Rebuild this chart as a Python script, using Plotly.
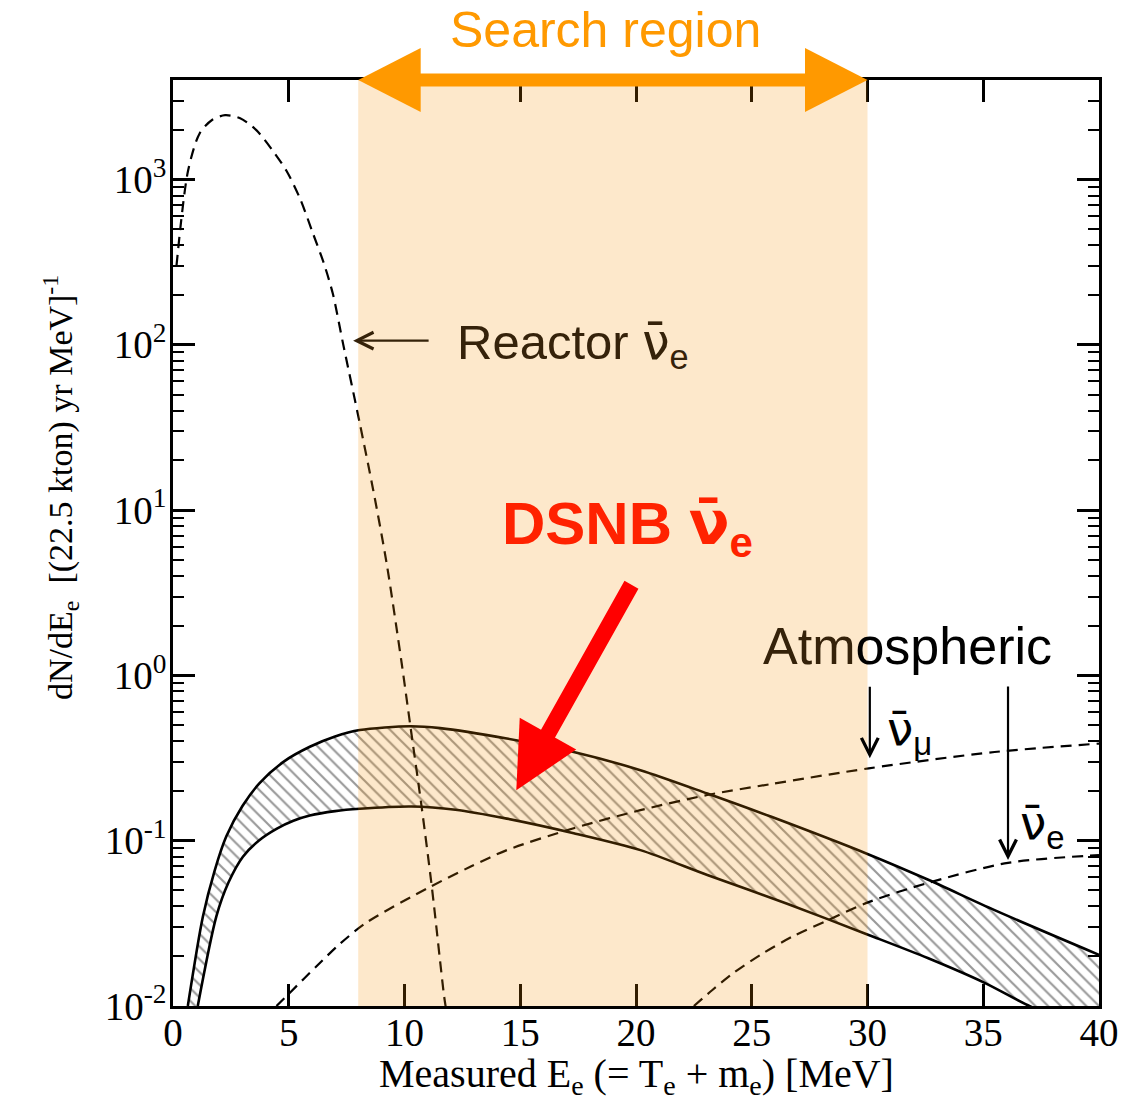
import math
import plotly.graph_objects as go

# ---- spectra: event rate dN/dE_e [(22.5 kton) yr MeV]^-1 vs measured E_e [MeV] ----
reactor_E = [0.15, 0.65, 1.15, 1.7, 2.25, 2.9, 3.6, 4.3, 4.9, 5.5, 6.05, 6.5, 6.9,
             7.35, 8.07, 8.65, 9.23, 9.88, 10.24, 10.74, 11.18, 11.71, 11.8]
reactor_rate = [300, 1130, 1900, 2300, 2450, 2350, 1990, 1500, 1130, 760, 470, 316, 205,
                101, 33.4, 13.2, 4.75, 1.18, 0.51, 0.16, 0.0526, 0.0115, 0.0095]

dsnb_hi_E = [0.64, 1.29, 1.8, 2.3, 3.0, 3.74, 4.8, 5.91, 7.0, 8.07, 10.24, 11.54, 14.42,
             17.31, 20.19, 23.08, 25.82, 30.05, 32.6, 35.49, 40.0]
dsnb_hi_rate = [0.01, 0.0347, 0.066, 0.106, 0.162, 0.223, 0.302, 0.37, 0.427, 0.467, 0.493,
                0.48, 0.415, 0.344, 0.267, 0.193, 0.14, 0.0826, 0.0582, 0.038, 0.0204]

dsnb_lo_E = [1.07, 1.87, 2.4, 3.02, 3.7, 4.47, 5.2, 5.91, 7.0, 8.07, 10.3, 12.2, 14.42, 17.31,
             20.19, 23.08, 26.5, 30.05, 32.6, 35.06, 36.93, 40.0]
dsnb_lo_rate = [0.01, 0.0347, 0.056, 0.08, 0.1, 0.118, 0.132, 0.142, 0.151, 0.156, 0.161,
                0.154, 0.136, 0.111, 0.0877, 0.062, 0.0417, 0.0269, 0.0195, 0.0138, 0.0101, 0.0066]

atm_numu_E = [4.47, 5.04, 6.2, 7.2, 8.36, 11.1, 12.84, 14.42, 17.31, 20.19, 23.08, 25.82,
              30.05, 35.49, 40.0]
atm_numu_rate = [0.01, 0.012, 0.0174, 0.0237, 0.032, 0.0525, 0.0695, 0.0877, 0.119, 0.153,
                 0.189, 0.22, 0.274, 0.344, 0.387]

atm_nue_E = [22.5, 23.3, 24.2, 25.4, 26.8, 28.28, 30.05, 32.6, 36.07, 40.0]
atm_nue_rate = [0.01, 0.0125, 0.0158, 0.0205, 0.0265, 0.033, 0.0425, 0.0555, 0.0735, 0.0818]

SEARCH_WINDOW = [8, 30]
X_RANGE = [0, 40]
X_TICKS = [0, 5, 10, 15, 20, 25, 30, 35, 40]
Y_RANGE = [0.01, 4000]
Y_TICK_VALS = [1e-2, 1e-1, 1e0, 1e1, 1e2, 1e3]
Y_TICK_TEXT = ["10<sup>-2</sup>", "10<sup>-1</sup>", "10<sup>0</sup>",
               "10<sup>1</sup>", "10<sup>2</sup>", "10<sup>3</sup>"]
Y_MINOR_VALS = [m * 10 ** e for e in range(-2, 4) for m in range(2, 10) if m * 10 ** e < Y_RANGE[1]]

SERIF = "Liberation Serif"
SANS = "Liberation Sans"
BROWN = "#35220A"
ORANGE = "#FF9900"
NUBAR = "<span style='font-family:DejaVu Sans'>\u03bd\u0304</span>"


def xp(v):
    """data x -> paper x"""
    return (v - X_RANGE[0]) / (X_RANGE[1] - X_RANGE[0])


def ly(v):
    """data y -> log10 position used by annotations on a log axis"""
    return math.log10(v)


solid = dict(color="black", width=2.6, shape="spline", smoothing=0.8)
dashed = dict(color="black", width=2.2, dash="11px,7px", shape="spline", smoothing=0.8)

fig = go.Figure()

# DSNB band: lower edge, then upper edge hatched down to it
fig.add_trace(go.Scatter(x=dsnb_lo_E, y=dsnb_lo_rate, mode="lines", line=solid,
                         showlegend=False, hoverinfo="skip"))
fig.add_trace(go.Scatter(x=dsnb_hi_E, y=dsnb_hi_rate, mode="lines", line=solid,
                         fill="tonexty", fillcolor="rgba(0,0,0,0)",
                         fillpattern=dict(shape="\\", fgcolor="#333333", bgcolor="rgba(0,0,0,0)",
                                          size=9, solidity=0.24),
                         showlegend=False, hoverinfo="skip"))

# backgrounds
fig.add_trace(go.Scatter(x=reactor_E, y=reactor_rate, mode="lines", line=dashed,
                         showlegend=False, hoverinfo="skip"))
fig.add_trace(go.Scatter(x=atm_numu_E, y=atm_numu_rate, mode="lines", line=dashed,
                         showlegend=False, hoverinfo="skip"))
fig.add_trace(go.Scatter(x=atm_nue_E, y=atm_nue_rate, mode="lines", line=dashed,
                         showlegend=False, hoverinfo="skip"))

# search window tint and double-headed arrow
head_len = 2.7
head_half = 0.0346
x0, x1 = SEARCH_WINDOW
shapes = [
    dict(type="rect", xref="paper", yref="paper", x0=xp(x0), x1=xp(x1), y0=0, y1=1,
         fillcolor="rgba(245,140,0,0.205)", line=dict(width=0), layer="above"),
    dict(type="line", xref="paper", yref="paper", x0=xp(x0 + 1.5), x1=xp(x1 - 1.5), y0=1, y1=1,
         line=dict(color=ORANGE, width=13), layer="above"),
    dict(type="path", xref="paper", yref="paper",
         path=f"M {xp(x0)},1 L {xp(x0 + head_len)},{1 + head_half} L {xp(x0 + head_len)},{1 - head_half} Z",
         fillcolor=ORANGE, line=dict(width=0), layer="above"),
    dict(type="path", xref="paper", yref="paper",
         path=f"M {xp(x1)},1 L {xp(x1 - head_len)},{1 + head_half} L {xp(x1 - head_len)},{1 - head_half} Z",
         fillcolor=ORANGE, line=dict(width=0), layer="above"),
]

annotations = [
    dict(text="Search region", xref="paper", yref="paper", x=xp(18.7), y=1.054,
         xanchor="center", yanchor="middle", showarrow=False,
         font=dict(family=SANS, size=50, color=ORANGE)),
    # reactor
    dict(text=f"Reactor {NUBAR}<sub>e</sub>", x=12.2, y=ly(100), xanchor="left", yanchor="middle",
         showarrow=False, font=dict(family=SANS, size=49, color=BROWN)),
    dict(text="", x=7.78, y=ly(106), ax=77, ay=0, showarrow=True, arrowhead=5,
         arrowwidth=2.2, arrowsize=1.5, arrowcolor=BROWN, standoff=0),
    # DSNB
    dict(text=f"<b>DSNB {NUBAR}<sub>e</sub></b>", x=14.13, y=ly(7.9), xanchor="left",
         yanchor="middle", showarrow=False, font=dict(family=SANS, size=60, color="#FF2200")),
    dict(text="", x=14.83, y=ly(0.202), ax=116, ay=-207, showarrow=True, arrowhead=2,
         arrowwidth=16, arrowsize=0.81, arrowcolor="#FF0000", standoff=0),
    # atmospheric
    dict(text=f"<span style='color:{BROWN}'>Atm</span>ospheric", x=25.39, y=ly(1.5),
         xanchor="left", yanchor="middle", showarrow=False,
         font=dict(family=SANS, size=52, color="black")),
    dict(text=f"{NUBAR}<sub>\u03bc</sub>", x=30.75, y=ly(0.46), xanchor="left", yanchor="middle",
         showarrow=False, font=dict(family=SANS, size=47, color="black")),
    dict(text="", x=30.1, y=ly(0.315), ax=0, ay=-73, showarrow=True, arrowhead=5,
         arrowwidth=2.2, arrowsize=1.5, arrowcolor="black", standoff=0),
    dict(text=f"{NUBAR}<sub>e</sub>", x=36.5, y=ly(0.124), xanchor="left", yanchor="middle",
         showarrow=False, font=dict(family=SANS, size=47, color="black")),
    dict(text="", x=36.07, y=ly(0.0765), ax=0, ay=-175, showarrow=True, arrowhead=5,
         arrowwidth=2.2, arrowsize=1.5, arrowcolor="black", standoff=0),
    # axis titles
    dict(text="dN/dE<sub>e</sub>  [(22.5 kton) yr MeV]<sup>-1</sup>", xref="paper", yref="paper",
         x=-0.121, y=0.5605, textangle=-90, xanchor="center", yanchor="middle", showarrow=False,
         font=dict(family=SERIF, size=34, color="black")),
    dict(text="Measured E<sub>e</sub> (= T<sub>e</sub> + m<sub>e</sub>) [MeV]", xref="paper",
         yref="paper", x=0.5, y=-0.0755, xanchor="center", yanchor="middle", showarrow=False,
         font=dict(family=SERIF, size=40, color="black")),
]

axis_common = dict(
    showline=True, linewidth=2.5, linecolor="black", mirror="ticks",
    ticks="inside", ticklen=22, tickwidth=2.5, tickcolor="black",
    showgrid=False, zeroline=False,
    tickfont=dict(family=SERIF, size=39, color="black"),
)

fig.update_layout(
    width=1143, height=1103,
    margin=dict(l=173, r=44, t=80, b=97),
    paper_bgcolor="white", plot_bgcolor="white",
    showlegend=False,
    xaxis=dict(range=X_RANGE, tickmode="array", tickvals=X_TICKS, ticklabelstandoff=-10,
               **axis_common),
    yaxis=dict(type="log", range=[math.log10(Y_RANGE[0]), math.log10(Y_RANGE[1])],
               tickmode="array", tickvals=Y_TICK_VALS, ticktext=Y_TICK_TEXT, ticklabelstandoff=-4,
               minor=dict(tickmode="array", tickvals=Y_MINOR_VALS, ticks="inside",
                          ticklen=11, tickwidth=2.2, tickcolor="black"),
               **axis_common),
    shapes=shapes,
    annotations=annotations,
)

fig.write_html("out.html")
